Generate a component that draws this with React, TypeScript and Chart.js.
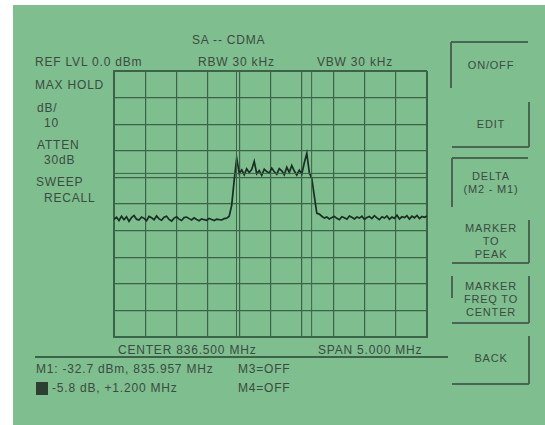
import React, { useEffect, useRef } from "react";
import { Chart, registerables } from "chart.js";

Chart.register(...registerables);

const centerMHz = 836.5;
const spanMHz = 5;
const refLevelDbm = 0;
const dbPerDiv = 10;
const divisions = 10;

// max-hold trace, dBm, one value per sweep point (left to right)
const traceLevels = [
  -55.8, -55.0, -56.2, -54.6, -55.9, -54.8, -56.5, -55.1, -54.3, -55.7,
  -56.0, -54.9, -55.4, -56.3, -54.7, -55.2, -55.9, -54.5, -55.6, -56.1,
  -55.0, -54.6, -55.8, -56.4, -55.3, -54.8, -55.7, -56.2, -55.1, -54.9,
  -55.5, -56.0, -55.2, -55.8, -56.3, -55.6, -55.9, -56.1, -55.4, -55.8,
  -56.2, -55.7, -55.9, -56.0, -55.5, -55.3, -54.6,
  -50.5, -41.0,
  -32.7, -38.5, -37.2, -39.0, -36.8, -38.2, -37.0, -34.0, -38.6, -37.4,
  -39.2, -36.9, -37.8, -38.4, -36.5, -37.9, -38.8, -36.7, -37.5, -39.0,
  -36.2, -38.1, -35.5, -37.6, -39.1, -37.3, -38.7, -34.5, -31.0, -38.2,
  -40.5,
  -47.0, -53.5,
  -53.8, -54.6, -55.3, -54.9, -55.6, -55.1, -54.7, -55.4, -55.9, -54.8,
  -55.2, -55.7, -54.5, -55.0, -55.6, -54.9, -55.3, -54.6, -55.8, -55.1,
  -54.7, -55.5, -54.4, -55.2, -55.9, -54.8, -55.3, -54.5, -55.7, -54.9,
  -55.4, -54.2, -55.6, -54.8, -55.1, -54.4, -55.7, -54.6, -55.2, -54.3,
  -55.5, -54.7, -55.0, -54.5,
];

const markerFreqsMHz = [835.957, 837.157];
const deltaRefLevelDbm = [-38.5];

const leftLabels = [
  { text: "REF LVL 0.0 dBm", x: 35, y: 62 },
  { text: "MAX HOLD", x: 35, y: 85 },
  { text: "dB/", x: 37, y: 108 },
  { text: "10", x: 44, y: 123 },
  { text: "ATTEN", x: 37, y: 145 },
  { text: "30dB", x: 44, y: 160 },
  { text: "SWEEP", x: 36, y: 182 },
  { text: "RECALL", x: 44, y: 198 },
  { text: "SA -- CDMA", x: 192, y: 40 },
  { text: "RBW  30 kHz", x: 198, y: 62 },
  { text: "VBW  30 kHz", x: 317, y: 62 },
  { text: "CENTER  836.500 MHz", x: 118, y: 350 },
  { text: "SPAN  5.000 MHz", x: 318, y: 350 },
  { text: "M1: -32.7 dBm, 835.957 MHz", x: 36, y: 369 },
  { text: "M3=OFF", x: 238, y: 369 },
  { text: "-5.8 dB, +1.200 MHz", x: 52, y: 388 },
  { text: "M4=OFF", x: 238, y: 388 },
];

const softKeys = [
  { lines: ["ON/OFF"], cy: 65 },
  { lines: ["EDIT"], cy: 124 },
  { lines: ["DELTA", "(M2 - M1)"], cy: 183 },
  { lines: ["MARKER", "TO", "PEAK"], cy: 241 },
  { lines: ["MARKER", "FREQ TO", "CENTER"], cy: 299 },
  { lines: ["BACK"], cy: 358 },
];

// bracket strokes of the soft keys: [x1, y1, x2, y2]
const keyStrokes = [
  [451, 42, 451, 88], [451, 42, 528, 42],
  [529, 102, 529, 147], [452, 147, 529, 147],
  [452, 158, 452, 207], [452, 158, 528, 158],
  [529, 220, 529, 263], [452, 263, 529, 263],
  [529, 276, 529, 323], [452, 323, 529, 323], [452, 276, 452, 298],
  [529, 336, 529, 384], [452, 384, 529, 384],
  [35, 357, 448, 357],
];

const BG = "#7fbe8e";
const INK = "#3a4c3f";
const GRID = "#3b6447";
const TRACE = "#1a2e21";
const FONT = '"Liberation Sans", Arial, sans-serif';

function Label({ text, x, y }: { text: string; x: number; y: number }) {
  return (
    <div
      style={{
        position: "absolute",
        left: x,
        top: y - 7,
        height: 14,
        lineHeight: "14px",
        fontSize: 12,
        letterSpacing: 0.8,
        whiteSpace: "nowrap",
        color: INK,
        fontFamily: FONT,
      }}
    >
      {text}
    </div>
  );
}

export default function App() {
  const canvasRef = useRef<HTMLCanvasElement | null>(null);

  useEffect(() => {
    const canvas = canvasRef.current;
    if (!canvas) return;
    const startMHz = centerMHz - spanMHz / 2;
    const stopMHz = centerMHz + spanMHz / 2;
    const n = traceLevels.length;
    const tracePts = traceLevels.map((v, i) => ({
      x: startMHz + (i * spanMHz) / (n - 1),
      y: v,
    }));
    const bottom = refLevelDbm - dbPerDiv * divisions;

    const markerSets = markerFreqsMHz.map((f) => ({
      data: [
        { x: f, y: bottom },
        { x: f, y: refLevelDbm },
      ],
      borderColor: GRID,
      borderWidth: 1,
      pointRadius: 0,
    }));
    const refSets = deltaRefLevelDbm.map((l) => ({
      data: [
        { x: startMHz, y: l },
        { x: stopMHz, y: l },
      ],
      borderColor: GRID,
      borderWidth: 1,
      pointRadius: 0,
    }));

    const edgeWidth = (ctx: any) =>
      ctx.index === 0 || ctx.index === divisions ? 2 : 1.2;

    const chart = new Chart(canvas, {
      type: "line",
      data: {
        datasets: [
          ...markerSets,
          ...refSets,
          {
            data: tracePts,
            borderColor: TRACE,
            borderWidth: 1.7,
            pointRadius: 0,
            tension: 0,
          },
        ] as any,
      },
      options: {
        responsive: false,
        animation: false,
        layout: { padding: 2 },
        plugins: {
          legend: { display: false },
          tooltip: { enabled: false },
        },
        scales: {
          x: {
            type: "linear",
            min: startMHz,
            max: stopMHz,
            ticks: { display: false, stepSize: spanMHz / divisions },
            grid: { color: GRID, lineWidth: edgeWidth, drawTicks: false },
            border: { display: true, color: GRID, width: 2 },
            afterFit: (s: any) => {
              s.height = 0;
            },
          },
          y: {
            type: "linear",
            min: bottom,
            max: refLevelDbm,
            ticks: { display: false, stepSize: dbPerDiv },
            grid: { color: GRID, lineWidth: edgeWidth, drawTicks: false },
            border: { display: true, color: GRID, width: 2 },
            afterFit: (s: any) => {
              s.width = 0;
            },
          },
        },
      } as any,
    });
    return () => chart.destroy();
  }, []);

  return (
    <div
      style={{
        position: "fixed",
        left: 0,
        top: 0,
        width: 545,
        height: 425,
        background: "#ffffff",
        overflow: "hidden",
      }}
    >
      <div
        style={{
          position: "absolute",
          left: 13,
          top: 5,
          width: 532,
          height: 420,
          background: BG,
        }}
      />
      <canvas
        ref={canvasRef}
        width={317}
        height={270}
        style={{ position: "absolute", left: 112, top: 69, width: 317, height: 270 }}
      />
      {leftLabels.map((l, i) => (
        <Label key={i} text={l.text} x={l.x} y={l.y} />
      ))}
      <div
        style={{
          position: "absolute",
          left: 36,
          top: 382,
          width: 12,
          height: 13,
          background: "#2d3f33",
        }}
      />
      {softKeys.map((k, i) => (
        <div
          key={i}
          style={{
            position: "absolute",
            left: 452,
            width: 78,
            top: k.cy - (k.lines.length * 13) / 2,
            textAlign: "center",
            fontSize: 11,
            lineHeight: "13px",
            letterSpacing: 0.8,
            color: INK,
            fontFamily: FONT,
          }}
        >
          {k.lines.map((t, j) => (
            <div key={j}>{t}</div>
          ))}
        </div>
      ))}
      {keyStrokes.map((s, i) => {
        const [x1, y1, x2, y2] = s;
        const horizontal = y1 === y2;
        return (
          <div
            key={i}
            style={{
              position: "absolute",
              left: Math.min(x1, x2) - (horizontal ? 0 : 1),
              top: Math.min(y1, y2) - (horizontal ? 1 : 0),
              width: horizontal ? Math.abs(x2 - x1) : 2,
              height: horizontal ? 2 : Math.abs(y2 - y1),
              background: i === keyStrokes.length - 1 ? GRID : "#4a6653",
            }}
          />
        );
      })}
    </div>
  );
}
